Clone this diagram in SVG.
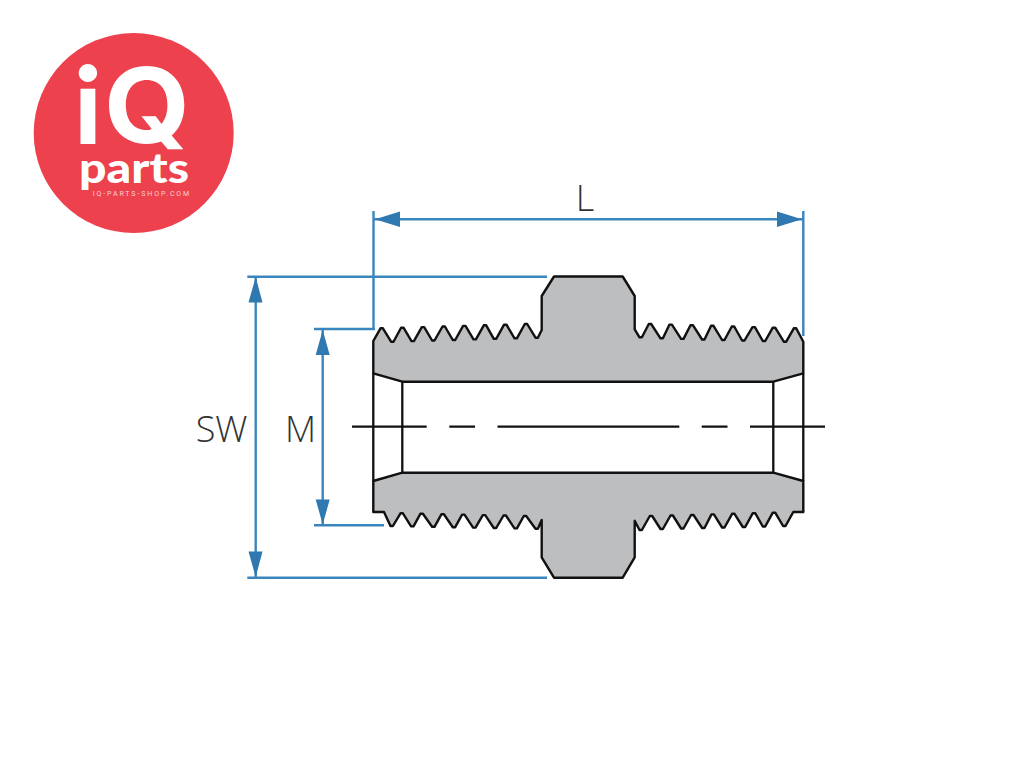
<svg xmlns="http://www.w3.org/2000/svg" width="1024" height="768" viewBox="0 0 1024 768">
<style>
.part{fill:#bdbec0;stroke:#111;stroke-width:2.4;stroke-linejoin:round}
.edge{fill:none;stroke:#111;stroke-width:2.3}
.dim{fill:none;stroke:#3a85bd;stroke-width:2.4}
.head{fill:#2f78b0}
.lab{font-family:"Open Sans","Noto Sans",sans-serif;font-weight:300;font-size:36px;fill:#333}
.logo{font-family:Lato,"Open Sans",sans-serif;fill:#fff}
</style>
<rect width="1024" height="768" fill="#fff"/>
<g id="logo">
<circle cx="133.7" cy="133" r="100" fill="#ed414e"/>
<text class="logo" x="74" y="144" font-size="107" font-weight="900">i</text>
<text x="104" y="143" font-family="Inter,Lato,sans-serif" fill="#fff" font-size="105" font-weight="700" textLength="86" lengthAdjust="spacingAndGlyphs">Q</text>
<text class="logo" x="79" y="183" font-size="42" font-weight="900" textLength="110" lengthAdjust="spacingAndGlyphs">parts</text>
<text x="92.7" y="195.7" font-family="Roboto,sans-serif" font-size="7" fill="#fad3d6" textLength="96.5">IQ-PARTS-SHOP.COM</text>
</g>
<g id="fitting">
<path class="part" d="M373.3 341L380.5 328.3 382.9 328.3 391.1 341.7 393.5 341.7 401.1 327.7 403.5 327.7 411.5 341.1 413.9 341.1 421.8 327.1 424.2 327.1 432.1 340.5 434.5 340.5 442.5 326.5 444.9 326.5 452.8 340 455.2 340 463.1 325.9 465.5 325.9 473.5 339.4 475.9 339.4 483.8 325.3 486.2 325.3 493.8 338.8 496.2 338.8 504.1 324.7 506.5 324.7 514.5 338.3 516.9 338.3 524.8 324 527.2 324 535.5 337.7 537.9 337.7 541.7 330V296L554 276.5H622.7L634.7 296V329.3L639.5 337.3 641.9 337.3 648.8 324 651.2 324 660.5 338.3 662.9 338.3 669.5 324.6 671.9 324.6 681.1 338.9 683.5 338.9 690.5 325.2 692.9 325.2 702.1 339.5 704.5 339.5 711.1 325.8 713.5 325.8 722.1 340 724.5 340 731.8 326.5 734.2 326.5 742.1 340.5 744.5 340.5 752.5 327.1 754.9 327.1 762.8 341 765.2 341 772.8 327.7 775.2 327.7 783.8 341.7 786.2 341.7 793.8 328.3 796.2 328.3 803.3 341.7V373.3L773.3 381.7H402.3L373.3 373.3Z"/>
<path class="part" d="M373.3 481L402.3 472.7H773.3L803.3 481V512H793.3L785.5 526 783.1 526 775.2 512.7 772.8 512.7 765.2 526.5 762.8 526.5 755.2 513.2 752.8 513.2 745.2 527 742.8 527 734.5 513.8 732.1 513.8 724.5 527.5 722.1 527.5 713.9 514.4 711.5 514.4 704.5 528 702.1 528 693.5 515 691.1 515 683.5 528.5 681.1 528.5 672.9 515.5 670.5 515.5 662.9 529 660.5 529 652.2 516 649.8 516 641.9 530 639.5 530 634.7 520.7V557.3L622.7 577.7H554L541.7 557.3V520L537.9 528.7 535.5 528.7 526.2 516 523.8 516 516.9 528.4 514.5 528.4 505.9 515.5 503.5 515.5 496.2 528 493.8 528 485.2 515.1 482.8 515.1 475.5 527.6 473.1 527.6 464.5 514.6 462.1 514.6 455.2 527.2 452.8 527.2 443.9 514.2 441.5 514.2 434.5 526.8 432.1 526.8 422.9 513.7 420.5 513.7 413.5 526.4 411.1 526.4 402.9 513.3 400.5 513.3 392.9 526 390.5 526 384 512H373.3Z"/>
<path class="edge" d="M373.3 373.3V481M402.3 381.7V472.7M773.3 381.7V472.7M803.3 373.3V481"/>
<path class="edge" d="M352 426.7H426.7M449.3 426.7H475M497.5 426.7H679.3M701.7 426.7H727.5M750 426.7H825"/>
</g>
<g id="dimensions">
<path class="dim" d="M373.5 211V330M803.3 211V336M373.5 219.3H803.3"/>
<path class="dim" d="M247.3 276.7H547M247.3 577.7H547M255.7 277V577"/>
<path class="dim" d="M314 329H375M314 525.3H384M322.7 329V525"/>
<path class="head" d="M375 219.3L400 211.5V227ZM802 219.3L777 211.5V227ZM255.7 277L262.5 302.5H248.5ZM255.7 577L262.5 551.5H248.5ZM322.7 330L329.7 355H315.7ZM322.7 524.5L329.7 499.5H315.7Z"/>
<text class="lab" x="585" y="211" text-anchor="middle">L</text>
<text class="lab" x="221.5" y="442" text-anchor="middle">SW</text>
<text class="lab" x="300.5" y="442" text-anchor="middle">M</text>
</g>
</svg>
